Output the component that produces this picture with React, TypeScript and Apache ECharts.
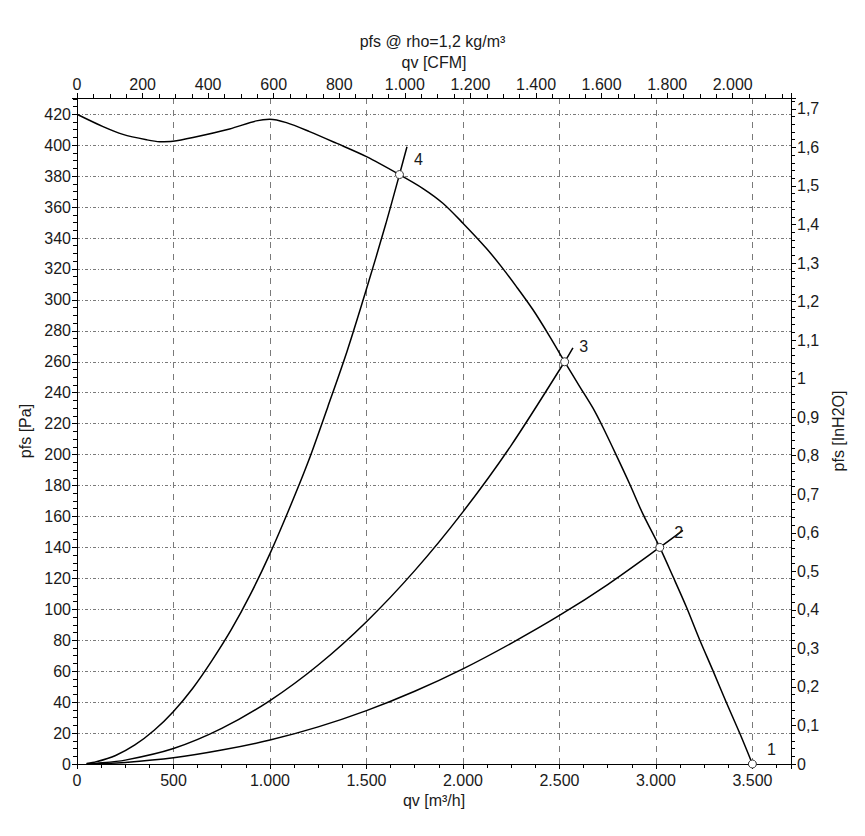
import React, { useEffect, useRef } from 'react';
import * as echarts from 'echarts';

// Fan curve (static pressure): qv [m³/h] / pfs [Pa]
const fanQ = [0, 135, 238, 360, 428, 497, 601, 791, 929, 998, 1085, 1205, 1344, 1500, 1671, 1793, 1896, 2000, 2121, 2199, 2277, 2363, 2450, 2527, 2605, 2674, 2726, 2795, 2864, 2933, 3020, 3089, 3158, 3226, 3295, 3365, 3434, 3500];
const fanP = [420, 412, 407, 403.5, 402.3, 402.6, 405, 410.5, 415.7, 416.8, 414.6, 408.8, 401.3, 392.6, 381, 372, 362.5, 349.6, 333.4, 321.5, 308.6, 293.6, 276.3, 260, 244, 230, 217.5, 199.5, 181, 161.5, 140, 121, 101.5, 80.5, 60.5, 39.8, 20, 0];

// System curves
const sys4Q = [50, 100, 200, 300, 400, 500, 600, 700, 800, 900, 1000, 1100, 1200, 1300, 1400, 1500, 1600, 1671, 1710];
const sys4P = [0.4, 1.4, 5.5, 12.3, 21.8, 34, 49, 67, 87, 110, 136, 165, 196, 231, 267, 307, 349, 381, 399];
const sys3Q = [50, 100, 250, 500, 750, 1000, 1250, 1500, 1750, 2000, 2250, 2527, 2570];
const sys3P = [0.1, 0.4, 2.5, 10, 23, 41, 64, 92, 125, 163, 206, 260, 269];
const sys2Q = [50, 100, 250, 500, 750, 1000, 1250, 1500, 1750, 2000, 2250, 2500, 2750, 3020, 3140];
const sys2P = [0.05, 0.2, 1, 4, 9, 15.5, 24, 34.5, 47, 61.5, 78, 96, 116, 140, 151];

// Operating points
const pointQ = [3500, 3020, 2527, 1671];
const pointP = [0, 140, 260, 381];
const pointLabels = ['1', '2', '3', '4'];

// Axis ranges
const qMax = 3700; // m³/h
const pMax = 430.5; // Pa
const CFM_PER_M3H = 1 / 1.69901;
const INH2O_PER_PA = 1 / 249.089;

const titleText = 'pfs @ rho=1,2 kg/m³';

const FONT = 'Liberation Sans, Arial, sans-serif';
const TXT = '#1a1a1a';

const thousands = (v: number) =>
  Math.round(v).toString().replace(/\B(?=(\d{3})+(?!\d))/g, '.');

const zip = (a: number[], b: number[]) => a.map((x, i) => [x, b[i]]);

export default function App() {
  const ref = useRef<HTMLDivElement>(null);
  useEffect(() => {
    if (!ref.current) return;
    const chart = echarts.init(ref.current, null, { renderer: 'svg' });
    const axisCommon = {
      axisLine: { show: true, onZero: false, lineStyle: { color: '#000', width: 1 } },
      axisTick: { show: true, length: 5, inside: false, lineStyle: { color: '#000' } },
      minorTick: { show: true, length: 4, lineStyle: { color: '#000' } },
      nameTextStyle: { fontFamily: FONT, fontSize: 16, color: TXT },
    };
    const labelStyle = { fontFamily: FONT, fontSize: 16, color: TXT };
    const lineSeries = (data: number[][]) => ({
      type: 'line',
      data,
      smooth: 0.3,
      symbol: 'none',
      lineStyle: { color: '#000', width: 1.5 },
      xAxisIndex: 0,
      yAxisIndex: 0,
      z: 3,
    });
    chart.setOption({
      animation: false,
      backgroundColor: '#fff',
      textStyle: { fontFamily: FONT },
      title: {
        text: titleText,
        left: 'center',
        top: 28,
        textStyle: { fontFamily: FONT, fontSize: 16, fontWeight: 'normal', color: TXT },
      },
      grid: { left: 77, right: 74, top: 98, bottom: 72, containLabel: false },
      xAxis: [
        {
          ...axisCommon,
          type: 'value',
          position: 'bottom',
          min: 0,
          max: qMax,
          interval: 500,
          minorTick: { ...axisCommon.minorTick, splitNumber: 4 },
          name: 'qv [m³/h]',
          nameLocation: 'middle',
          nameGap: 26,
          axisLabel: {
            ...labelStyle,
            margin: 8,
            showMaxLabel: false,
            formatter: (v: number) => (v % 500 === 0 ? thousands(v) : ''),
          },
          splitLine: { show: true, lineStyle: { color: '#7a7a7a', type: [6, 6], width: 1 } },
          minorSplitLine: { show: false },
        },
        {
          ...axisCommon,
          type: 'value',
          position: 'top',
          min: 0,
          max: qMax * CFM_PER_M3H,
          interval: 200,
          minorTick: { ...axisCommon.minorTick, splitNumber: 4 },
          name: 'qv [CFM]',
          nameLocation: 'middle',
          nameGap: 28,
          axisLabel: {
            ...labelStyle,
            margin: 6,
            showMaxLabel: false,
            formatter: (v: number) => (Math.abs(v % 200) < 1e-6 ? thousands(v) : ''),
          },
          splitLine: { show: false },
        },
      ],
      yAxis: [
        {
          ...axisCommon,
          type: 'value',
          position: 'left',
          min: 0,
          max: pMax,
          interval: 20,
          minorTick: { ...axisCommon.minorTick, splitNumber: 4 },
          name: 'pfs [Pa]',
          nameLocation: 'middle',
          nameGap: 39,
          axisLabel: {
            ...labelStyle,
            margin: 6,
            showMaxLabel: false,
            formatter: (v: number) => (v % 20 === 0 ? String(v) : ''),
          },
          splitLine: { show: true, lineStyle: { color: '#7a7a7a', type: [3, 2, 1, 2], width: 1 } },
        },
        {
          ...axisCommon,
          type: 'value',
          position: 'right',
          min: 0,
          max: pMax * INH2O_PER_PA,
          interval: 0.1,
          minorTick: { ...axisCommon.minorTick, splitNumber: 5 },
          name: 'pfs [InH2O]',
          nameLocation: 'middle',
          nameGap: 38,
          axisLabel: {
            ...labelStyle,
            margin: 6,
            showMaxLabel: false,
            formatter: (v: number) => {
              const r = Math.round(v * 10) / 10;
              if (Math.abs(r - v) > 1e-6) return '';
              return r.toString().replace('.', ',');
            },
          },
          splitLine: { show: false },
        },
      ],
      series: [
        lineSeries(zip(fanQ, fanP)),
        lineSeries(zip(sys4Q, sys4P)),
        lineSeries(zip(sys3Q, sys3P)),
        lineSeries(zip(sys2Q, sys2P)),
        {
          type: 'scatter',
          xAxisIndex: 0,
          yAxisIndex: 0,
          data: pointQ.map((q, i) => ({ value: [q, pointP[i]], name: pointLabels[i] })),
          symbol: 'circle',
          symbolSize: 8,
          itemStyle: { color: '#fff', borderColor: '#333', borderWidth: 1, opacity: 1 },
          label: {
            show: true,
            formatter: (p: any) => p.name,
            position: 'right',
            distance: 5,
            offset: [5, -15],
            fontFamily: FONT,
            fontSize: 16,
            color: TXT,
          },
          z: 5,
        },
      ],
    });
    return () => chart.dispose();
  }, []);
  return (
    <div
      ref={ref}
      style={{ position: 'fixed', left: 0, top: 0, width: 865, height: 836, background: '#fff' }}
    />
  );
}
